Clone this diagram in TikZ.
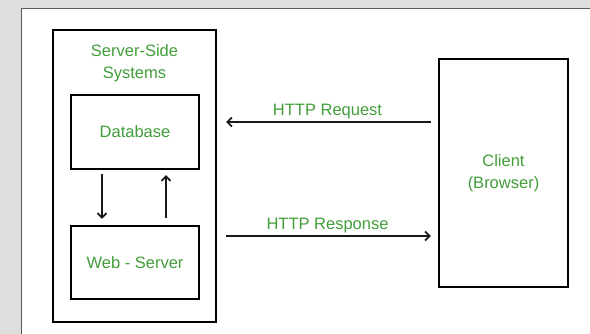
\documentclass[tikz,border=0pt]{standalone}
\usepackage{fontspec}
\setmainfont{Liberation Sans}
\usetikzlibrary{arrows.meta}
\definecolor{txtgreen}{RGB}{66,158,58}
\definecolor{bggray}{RGB}{222,222,222}
\definecolor{panelline}{RGB}{90,90,90}
\begin{document}
\begin{tikzpicture}[x=1pt,y=-1pt,
  box/.style={draw=black, line width=2.4pt, minimum width=#1, inner sep=0pt},
  lbl/.style={text=txtgreen, font=\fontsize{16.5}{21.5}\selectfont, align=center, inner sep=0pt},
  arr/.style={draw=black!90, line width=1.7pt, -{Straight Barb[length=4.5pt,width=9pt,line width=1.7pt]}}
]
\useasboundingbox (0,0) rectangle (590,334);
\fill[bggray] (0,0) rectangle (590,334);
\fill[white] (21,9) rectangle (590,334);
\draw[panelline, line width=1pt] (21,334) -- (21,9) -- (590,9);

\node[box=163pt, minimum height=292pt] (outer) at (134.5,176) {};
\node[lbl] (title) at (134.5,63) {Server-Side\\Systems};
\node[box=128pt, minimum height=74pt, lbl] (db) at (135,132) {Database};
\node[box=128pt, minimum height=73pt, lbl] (web) at (135,262.5) {Web - Server};
\node[box=129pt, minimum height=228pt, lbl] (client) at (503.5,173) {Client\\[1pt](Browser)};

\draw[arr, shorten <=4pt, shorten >=6pt] (db.south -| 102,0) -- (web.north -| 102,0);
\draw[arr, shorten <=7pt, shorten >=5pt] (web.north -| 166,0) -- (db.south -| 166,0);

\draw[arr, shorten <=7pt, shorten >=9pt] (client.west |- 0,122) -- node[lbl, above=2.5pt] (req) {HTTP Request} (outer.east |- 0,122);
\draw[arr, shorten <=9pt, shorten >=7pt] (outer.east |- 0,236) -- node[lbl, above=2.5pt] (resp) {HTTP Response} (client.west |- 0,236);
\end{tikzpicture}
\end{document}
